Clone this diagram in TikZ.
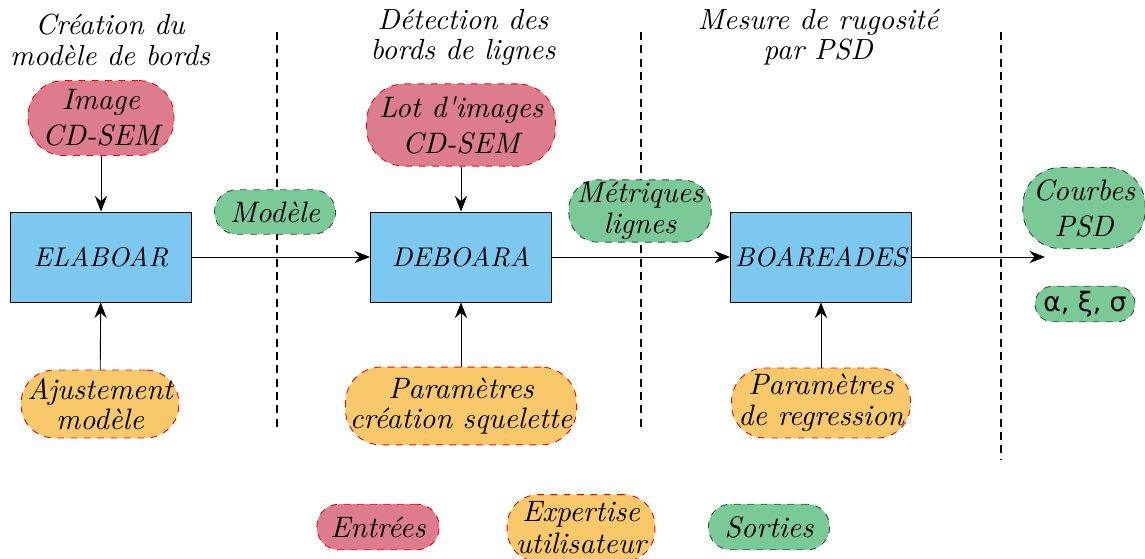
\documentclass[tikz,border=0pt]{standalone}
\usepackage{fontspec}
\setmainfont{lmroman10-regular.otf}[ItalicFont=lmroman10-italic.otf, BoldFont=lmroman10-bold.otf]
\newfontfamily\dejavu{DejaVu Sans}
\usetikzlibrary{arrows.meta}
\definecolor{inred}{RGB}{220,124,140}
\definecolor{exporange}{RGB}{248,200,106}
\definecolor{outgreen}{RGB}{124,201,152}
\definecolor{procblue}{RGB}{125,200,240}
\definecolor{dkgreen}{RGB}{30,90,40}
\tikzset{
  basetext/.style={font=\fontsize{13.3}{13.8}\selectfont\itshape, align=center, inner sep=1pt},
  widelines/.style={font=\fontsize{13.3}{16.2}\selectfont\itshape},
  inputnode/.style={basetext, widelines, draw=red, dashed, fill=inred, rounded corners=16pt},
  expnode/.style={basetext, draw=red, dashed, fill=exporange, rounded corners=15pt},
  outnode/.style={basetext, draw=dkgreen, dashed, fill=outgreen, rounded corners=13pt},
  procbox/.style={basetext, font=\fontsize{12.2}{14}\selectfont\itshape, draw=black, fill=procblue, minimum width=81.5pt, minimum height=40.5pt},
  header/.style={font=\fontsize{13.1}{13.6}\selectfont\itshape, align=center},
  sep/.style={draw=black, line width=0.9pt, dash pattern=on 3.6pt off 2.4pt},
  flow/.style={draw=black, -{Stealth[length=7pt,width=5.5pt]}}
}
\begin{document}
\begin{tikzpicture}[x=0.45pt,y=-0.45pt]
\useasboundingbox (0,0) rectangle (1145,558);
% headers
\node[header] (h1) at (110,40) {Création du\\modèle de bords};
\node[header] (h2) at (463,37) {Détection des\\bords de lignes};
\node[header] (h3) at (818,37) {Mesure de rugosité\\par PSD};
% separators
\coordinate (s1a) at (277,32); \coordinate (s1b) at (277,432);
\coordinate (s2a) at (641,32); \coordinate (s2b) at (641,432);
\coordinate (s3a) at (1001,32); \coordinate (s3b) at (1001,460);
\draw[sep] (s1a) -- (s1b);
\draw[sep] (s2a) -- (s2b);
\draw[sep] (s3a) -- (s3b);
% process boxes
\node[procbox] (elab) at (101,257) {ELABOAR};
\node[procbox] (debo) at (461,257) {DEBOARA};
\node[procbox] (boar) at (821,257) {BOAREADES};
% inputs
\node[inputnode, minimum width=65.7pt, minimum height=33.7pt] (img) at (101,118) {Image\\CD-SEM};
\node[inputnode, minimum width=85pt, minimum height=37pt, rounded corners=17pt] (lot) at (461,125) {Lot d\textquotesingle images\\CD-SEM};
% expertise
\node[expnode, minimum width=71pt, minimum height=30.6pt] (aju) at (100,404) {Ajustement\\modèle};
\node[expnode, minimum width=104pt, minimum height=35pt, rounded corners=16pt] (par1) at (461,406) {Paramètres\\création squelette};
\node[expnode, minimum width=80.5pt, minimum height=31.5pt] (par2) at (821,403) {Paramètres\\de regression};
% outputs
\node[outnode, minimum width=54.5pt, minimum height=20pt, rounded corners=10pt] (mod) at (275,212) {Modèle};
\node[outnode, minimum width=64pt, minimum height=28pt] (met) at (640,211) {Métriques\\lignes};
\node[outnode, widelines, minimum width=55pt, minimum height=36.5pt, rounded corners=17pt] (crb) at (1084,208) {Courbes\\PSD};
\node[outnode, minimum width=45pt, minimum height=16pt, rounded corners=8pt, font=\dejavu\fontsize{12}{14}\selectfont] (grk) at (1085,304) {α, ξ, σ};
% connectors
\coordinate (end) at (1045,257);
\draw[flow] (elab) -- (debo);
\draw[flow] (debo) -- (boar);
\draw[flow] (boar) -- (end);
\draw[flow] (img) -- (elab);
\draw[flow] (lot) -- (debo);
\draw[flow] (aju) -- (elab);
\draw[flow] (par1) -- (debo);
\draw[flow] (par2) -- (boar);
% legend
\node[inputnode, minimum width=55pt, minimum height=20.5pt, rounded corners=10pt] (lin) at (378,527) {Entrées};
\node[expnode, font=\fontsize{13.3}{14.4}\selectfont\itshape, minimum width=66.5pt, minimum height=30pt, rounded corners=14pt] (lex) at (581,528) {Expertise\\utilisateur};
\node[outnode, minimum width=54.5pt, minimum height=20.5pt, rounded corners=10pt] (lout) at (769,527) {Sorties};
\end{tikzpicture}
\end{document}
